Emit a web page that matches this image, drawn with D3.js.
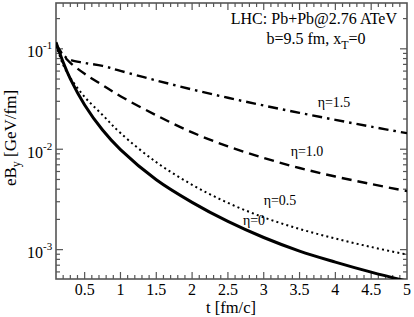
<!DOCTYPE html>
<html><head><meta charset="utf-8">
<script src="https://cdn.jsdelivr.net/npm/d3@7"></script>
<style>body{margin:0;background:#fff}svg{display:block}text{font-family:"Liberation Serif","Times New Roman",serif;fill:#000}</style>
</head><body><svg id="c" width="414" height="317"></svg>
<script>
const tVals = [0.1, 0.2, 0.3, 0.5, 0.75, 1, 1.5, 2, 2.5, 3, 3.5, 4, 4.5, 5];
const eta0  = [0.1164, 0.07345, 0.05023, 0.02761, 0.01552, 0.009908, 0.004966, 0.002958, 0.001910, 0.001321, 0.000968, 0.000752, 0.000597, 0.000485];
const eta05 = [0.1086, 0.06934, 0.05140, 0.03319, 0.02193, 0.01449, 0.007430, 0.004426, 0.002924, 0.002094, 0.001607, 0.001291, 0.001062, 0.000893];
const eta10 = [0.1086, 0.08630, 0.07261, 0.05636, 0.04345, 0.03373, 0.02178, 0.01472, 0.01067, 0.008185, 0.006501, 0.005346, 0.004498, 0.003828];
const eta15 = [0.1112, 0.08710, 0.07762, 0.07244, 0.06761, 0.06026, 0.04842, 0.03936, 0.03254, 0.02723, 0.02304, 0.01961, 0.01679, 0.01445];
const seriesNames = ["η=0", "η=0.5", "η=1.0", "η=1.5"];
const xTickLabels = ["0.5","1","1.5","2","2.5","3","3.5","4","4.5","5"];
const yTickExps = [-1, -2, -3];

const svg = d3.select("#c");
const L = 56, R = 407, T = 3, B = 279;
const x = d3.scaleLinear().domain([0.1, 5]).range([L, R]);
const y = d3.scaleLog().domain([5.1e-4, 0.286]).range([B, T]);

svg.append("clipPath").attr("id","clip").append("rect").attr("x",L).attr("y",T).attr("width",R-L).attr("height",B-T);

const axisCol = "#555";
svg.append("rect").attr("x",L).attr("y",T).attr("width",R-L).attr("height",B-T)
  .attr("fill","none").attr("stroke",axisCol).attr("stroke-width",1.6);

// x ticks (inward, bottom and top)
d3.range(2, 50).map(i => i/10).forEach(v => {
  const major = Math.abs(v*2 - Math.round(v*2)) < 1e-6;
  const len = major ? 7 : 4;
  const px = x(v);
  svg.append("line").attr("x1",px).attr("x2",px).attr("y1",B).attr("y2",B-len).attr("stroke",axisCol).attr("stroke-width",1.2);
  svg.append("line").attr("x1",px).attr("x2",px).attr("y1",T).attr("y2",T+len).attr("stroke",axisCol).attr("stroke-width",1.2);
});
xTickLabels.forEach(s => {
  svg.append("text").attr("x", x(+s)).attr("y", 295).attr("text-anchor","middle").attr("font-size",16).text(s);
});

// y ticks (log, inward, left and right)
const yTicks = [];
for (let e = -4; e <= -1; e++) for (let m = 1; m <= 9; m++) yTicks.push([m*Math.pow(10,e), m===1]);
yTicks.forEach(([v, major]) => {
  if (v < y.domain()[0] || v > y.domain()[1]) return;
  const len = major ? 7 : 4;
  const py = y(v);
  svg.append("line").attr("x1",L).attr("x2",L+len).attr("y1",py).attr("y2",py).attr("stroke",axisCol).attr("stroke-width",1.2);
  svg.append("line").attr("x1",R).attr("x2",R-len).attr("y1",py).attr("y2",py).attr("stroke",axisCol).attr("stroke-width",1.2);
});
yTickExps.forEach(e => {
  const t = svg.append("text").attr("x", 27).attr("y", y(Math.pow(10,e)) + 8.5).attr("font-size",16);
  t.append("tspan").text("10");
  t.append("tspan").attr("dy",-8).attr("font-size",11).text(String(e));
});

// axis titles
svg.append("text").attr("x", 231).attr("y", 313).attr("text-anchor","middle").attr("font-size",16.5).text("t [fm/c]");
const yt = svg.append("text").attr("transform","translate(16,138) rotate(-90)").attr("text-anchor","middle").attr("font-size",17);
yt.append("tspan").text("eB");
yt.append("tspan").attr("dy",4).attr("font-size",12).text("y");
yt.append("tspan").attr("dy",-4).text(" [GeV/fm]");

// annotation
svg.append("text").attr("x", 397).attr("y", 24).attr("text-anchor","end").attr("font-size",16).text("LHC: Pb+Pb@2.76 ATeV");
const a2 = svg.append("text").attr("x", 316).attr("y", 44).attr("text-anchor","middle").attr("font-size",16);
a2.append("tspan").text("b=9.5 fm, x");
a2.append("tspan").attr("dy",5).attr("font-size",12).text("T");
a2.append("tspan").attr("dy",-5).text("=0");

// curves
const line = d3.line().x(d => x(d[0])).y(d => y(d[1])).curve(d3.curveCatmullRom.alpha(0.5));
const styles = [
  {data: eta0,  w: 3,   dash: null},
  {data: eta05, w: 2,   dash: "2,3.2"},
  {data: eta10, w: 2.4, dash: "10,6"},
  {data: eta15, w: 2.4, dash: "10,5,2.5,5"},
];
const g = svg.append("g").attr("clip-path","url(#clip)");
styles.forEach(s => {
  g.append("path").attr("d", line(tVals.map((t,i)=>[t, s.data[i]])))
    .attr("fill","none").attr("stroke","#000").attr("stroke-width",s.w)
    .attr("stroke-dasharray", s.dash);
});

// curve labels
const labelPos = [[254,225],[280,205],[307,156],[334,107]];
seriesNames.forEach((n,i) => {
  svg.append("text").attr("x",labelPos[i][0]).attr("y",labelPos[i][1]).attr("text-anchor","middle").attr("font-size",14).text(n);
});
</script></body></html>
